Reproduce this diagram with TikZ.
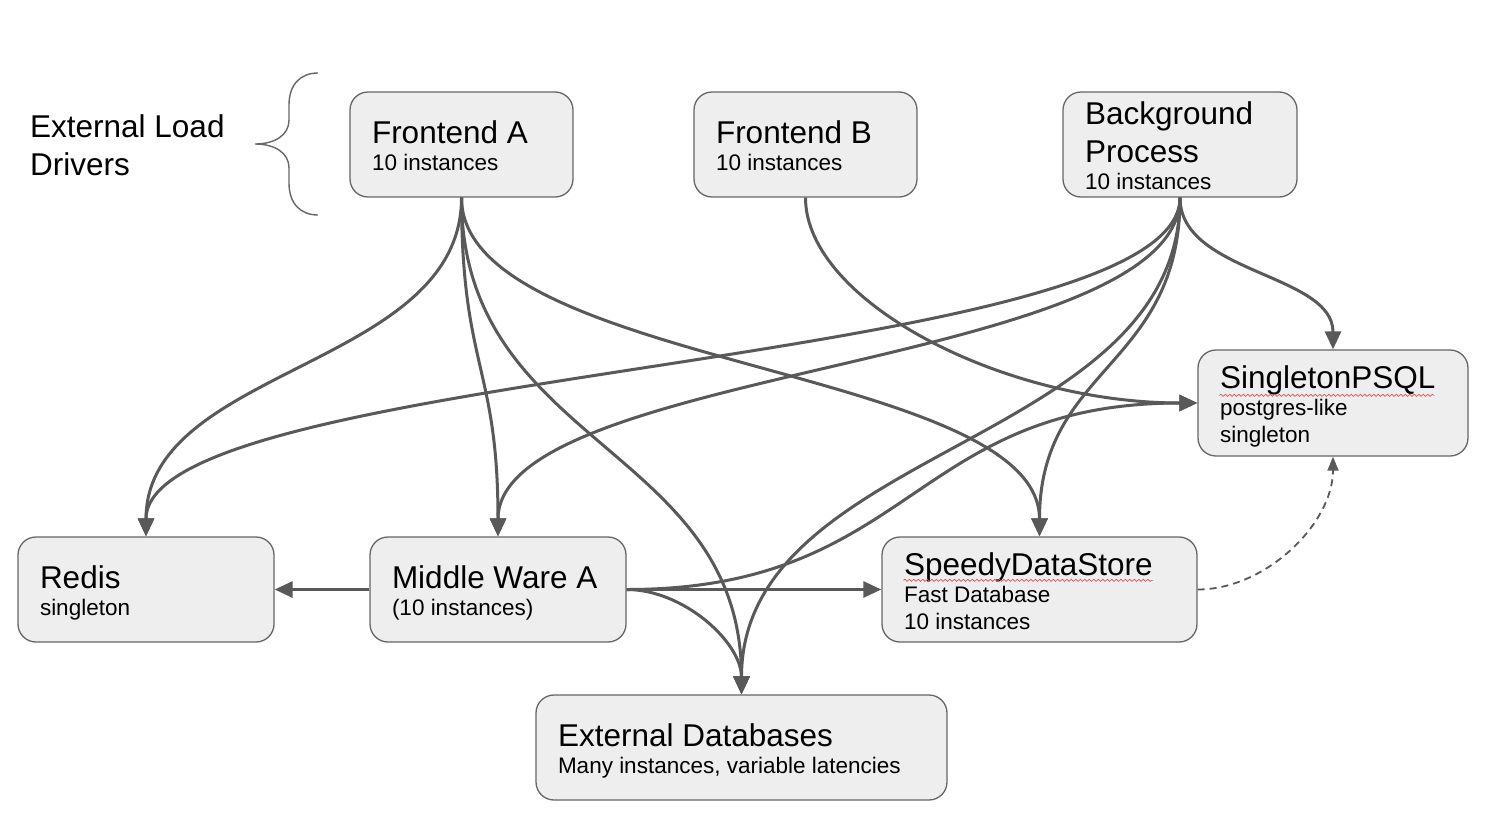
\documentclass[tikz,border=0pt]{standalone}
\usepackage{fontspec}
\setmainfont{Liberation Sans}
\usetikzlibrary{arrows.meta}
\usetikzlibrary{decorations.pathmorphing}

\definecolor{linegray}{HTML}{595959}
\definecolor{boxfill}{HTML}{EEEEEE}
\definecolor{boxline}{HTML}{666666}
\definecolor{spellred}{HTML}{E05050}

% one line of text each, struts fix the line pitch
\newcommand{\boxtitle}[1]{{\fontsize{31.5}{38}\selectfont\spaceskip=.278em plus .1em minus .05em
    \rule[-8.5pt]{0pt}{28.5pt}#1\par}}
\newcommand{\boxinfo}[1]{{\fontsize{22.5}{27}\selectfont\spaceskip=.278em plus .1em minus .05em
    \rule[-7pt]{0pt}{19pt}#1\par}}

\tikzset{
  box/.style={draw=boxline, line width=1.3pt, fill=boxfill, rounded corners=18pt,
    minimum height=105pt, inner xsep=22pt, inner ysep=2pt,
    execute at end node={\kern-10pt}},
  link/.style={draw=linegray, line width=3pt, -{Triangle[length=18pt,width=16pt]}},
  weak/.style={draw=linegray, line width=1.8pt, dash pattern=on 7pt off 5pt,
    -{Triangle[length=14pt,width=11pt]}},
  squiggle/.style={spellred, line width=0.7pt, decorate,
    decoration={snake, amplitude=1.1pt, segment length=4.5pt}}
}

\begin{document}
\begin{tikzpicture}[x=1pt,y=-1pt]
    \fill[white] (0,0) rectangle (1496,838);
    \useasboundingbox (0,0) rectangle (1496,838);

    % load drivers
    \node[anchor=west, inner sep=0pt, text width=200pt] (drivers) at (30,149)
        {\boxtitle{External Load}\boxtitle{Drivers}};
    \draw[boxline, line width=1.4pt] (318,73) .. controls (300,73) and (289,85) .. (289,105) -- (289,120)
        .. controls (289,135) and (275,144) .. (255,144)
        .. controls (275,144) and (289,153) .. (289,168) -- (289,183)
        .. controls (289,203) and (300,215) .. (318,215);

    \node[box, text width=179pt] (fa) at (461.5,144.5) {\boxtitle{Frontend A}\boxinfo{10 instances}};
    \node[box, text width=179pt] (fb) at (805.5,144.5) {\boxtitle{Frontend B}\boxinfo{10 instances}};
    \node[box, text width=190pt] (bp) at (1180,144.5)
        {\boxtitle{Background}\boxtitle{Process}\boxinfo{10 instances}};
    \node[box, text width=226pt, minimum height=106pt] (psql) at (1333,403)
        {\boxtitle{SingletonPSQL}\boxinfo{postgres-like}\boxinfo{singleton}};

    \node[box, text width=212pt] (redis) at (146,589.5) {\boxtitle{Redis}\boxinfo{singleton}};
    \node[box, text width=212pt] (mw) at (498,589.5) {\boxtitle{Middle Ware A}\boxinfo{(10 instances)}};
    \node[box, text width=271pt] (sds) at (1039.5,589.5)
        {\boxtitle{SpeedyDataStore}\boxinfo{Fast Database}\boxinfo{10 instances}};
    \node[box, text width=367pt] (ed) at (741.5,747.5)
        {\boxtitle{External Databases}\boxinfo{Many instances, variable latencies}};

    % spell-check marks
    \draw[squiggle] ([shift={(22,46)}]psql.north west) -- ++(215,0);
    \draw[squiggle] ([shift={(22,44)}]sds.north west) -- ++(250,0);

    % frontend A
    \draw[link] (fa.south) .. controls +(0,170) and +(0,-170) .. (redis.north);
    \draw[link] (fa.south) .. controls +(0,170) and +(0,-170) .. (mw.north);
    \draw[link] (fa.south) .. controls +(0,249) and +(0,-249) .. (ed.north);
    \draw[link] (fa.south) .. controls +(0,170) and +(0,-170) .. (sds.north);
    % frontend B
    \draw[link] (fb.south) .. controls +(0,103) and +(-196,0) .. (psql.west);
    % background process
    \draw[link] (bp.south) .. controls +(0,76) and +(0,-76) .. (psql.north);
    \draw[link] (bp.south) .. controls +(0,170) and +(0,-170) .. (redis.north);
    \draw[link] (bp.south) .. controls +(0,170) and +(0,-170) .. (mw.north);
    \draw[link] (bp.south) .. controls +(0,170) and +(0,-170) .. (sds.north);
    \draw[link] (bp.south) .. controls +(0,249) and +(0,-249) .. (ed.north);
    % middle ware
    \draw[link] (mw.west) -- (redis.east);
    \draw[link] (mw.east) -- (sds.west);
    \draw[link] (mw.east) .. controls +(286,0) and +(-286,0) .. (psql.west);
    \draw[link] (mw.east) .. controls +(57,0) and +(0,-52) .. (ed.north);
    % replication
    \draw[weak] (sds.east) .. controls +(68,0) and +(0,67) .. (psql.south);
\end{tikzpicture}
\end{document}
